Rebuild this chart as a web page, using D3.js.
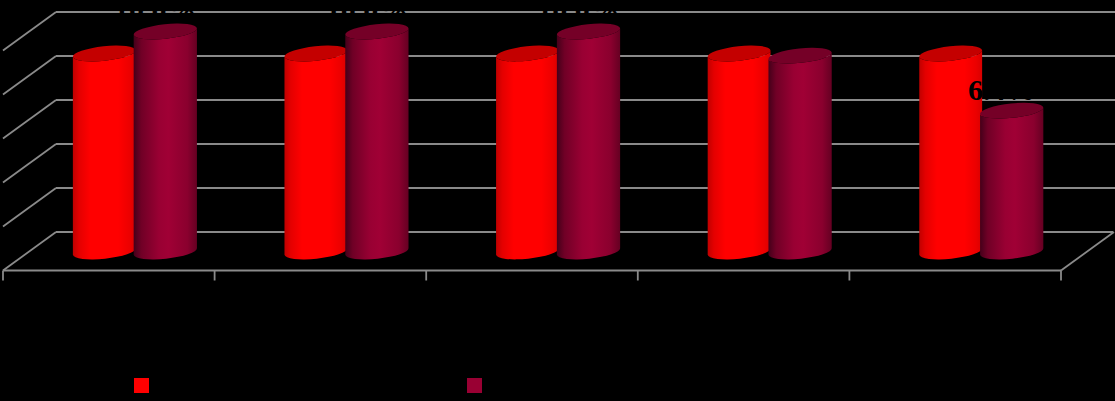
<!DOCTYPE html>
<html><head><meta charset="utf-8">
<script src="https://cdnjs.cloudflare.com/ajax/libs/d3/7.8.5/d3.min.js"></script>
<style>html,body{margin:0;padding:0;background:#000;overflow:hidden}svg{display:block}</style>
</head><body><svg id="c" width="1115" height="401"></svg>
<script>
const categories = ["A","B","C","D","E"];
const seriesA = [9.0, 9.0, 9.0, 9.0, 9.0];
const seriesB = [10.0, 10.0, 10.0, 8.9, 6.4];
const labelsB = ["10.0%","10.0%","10.0%","","6.4%"];
const yTicks = [0,2,4,6,8,10];

const W=1115,H=401;
const svg=d3.select("#c");
svg.append("rect").attr("width",W).attr("height",H).attr("fill","#000");
const x=d3.scaleBand().domain(categories).range([3,1061]);
const y=d3.scaleLinear().domain([0,10]).range([232,12]);
const depthY=38.5, baseOff=19.5, gridC="#8a8a8a";
const defs=svg.append("defs");
function grad(id,stops){
  const g=defs.append("linearGradient").attr("id",id).attr("x1",0).attr("x2",1).attr("y1",0).attr("y2",0);
  stops.forEach(s=>g.append("stop").attr("offset",s[0]).attr("stop-color",s[1]));
}
grad("g1",[[0,"#c00000"],[.1,"#e40000"],[.28,"#ff0000"],[.72,"#ff0000"],[.9,"#ec0000"],[1,"#d80000"]]);
grad("g2",[[0,"#45001a"],[.12,"#700026"],[.4,"#990033"],[.55,"#a00035"],[.85,"#8a002e"],[1,"#650022"]]);
const grid=svg.append("g").attr("stroke",gridC).attr("stroke-width",1.8).attr("fill","none");
yTicks.forEach(t=>{
  const yy=y(t);
  grid.append("line").attr("x1",56).attr("x2",t===0?1113:1115).attr("y1",yy).attr("y2",yy);
  grid.append("line").attr("x1",3).attr("x2",56).attr("y1",yy+depthY).attr("y2",yy);
});
grid.append("line").attr("x1",3).attr("x2",1061).attr("y1",y(0)+depthY).attr("y2",y(0)+depthY);
grid.append("line").attr("x1",1061).attr("x2",1114).attr("y1",y(0)+depthY).attr("y2",y(0));
const tickPos=categories.map(c=>x(c)).concat([x.range()[1]]);
tickPos.forEach(p=>grid.append("line").attr("x1",p).attr("x2",p).attr("y1",y(0)+depthY).attr("y2",y(0)+depthY+10));

const rot=-6, ry=7.2;
const ca=Math.cos(rot*Math.PI/180), sa=Math.sin(rot*Math.PI/180);
function cyl(cx,rx,vy,fill,top){
  const by=y(0)+baseOff, ty=y(vy)+baseOff;
  const dx=rx*ca, dy=rx*sa;
  const g=svg.append("g");
  g.append("path").attr("fill",fill).attr("d",
    `M${cx-dx},${ty-dy} L${cx-dx},${by-dy} A${rx},${ry} ${rot} 0 0 ${cx+dx},${by+dy} L${cx+dx},${ty+dy} A${rx},${ry} ${rot} 0 1 ${cx-dx},${ty-dy} Z`);
  g.append("ellipse").attr("cx",cx).attr("cy",ty).attr("rx",rx).attr("ry",ry)
   .attr("transform",`rotate(${rot} ${cx} ${ty})`).attr("fill",top);
}
categories.forEach((c,i)=>{
  const c0=x(c)+x.bandwidth()/2+25.5;
  cyl(c0-30,31.6,seriesA[i],"url(#g1)","#c40000");
  cyl(c0+31,31.8,seriesB[i],"url(#g2)","#750027");
  if(labelsB[i]) svg.append("text").attr("x",c0+21).attr("y",y(seriesB[i])+baseOff-11)
    .attr("text-anchor","middle").attr("font-family","Liberation Serif")
    .attr("font-weight","bold").attr("font-size",30).attr("fill","#000").text(labelsB[i]);
});
[[134,"#ff0000"],[467,"#990033"]].forEach(d=>svg.append("rect").attr("x",d[0]).attr("y",378).attr("width",15).attr("height",15).attr("fill",d[1]));
</script></body></html>
